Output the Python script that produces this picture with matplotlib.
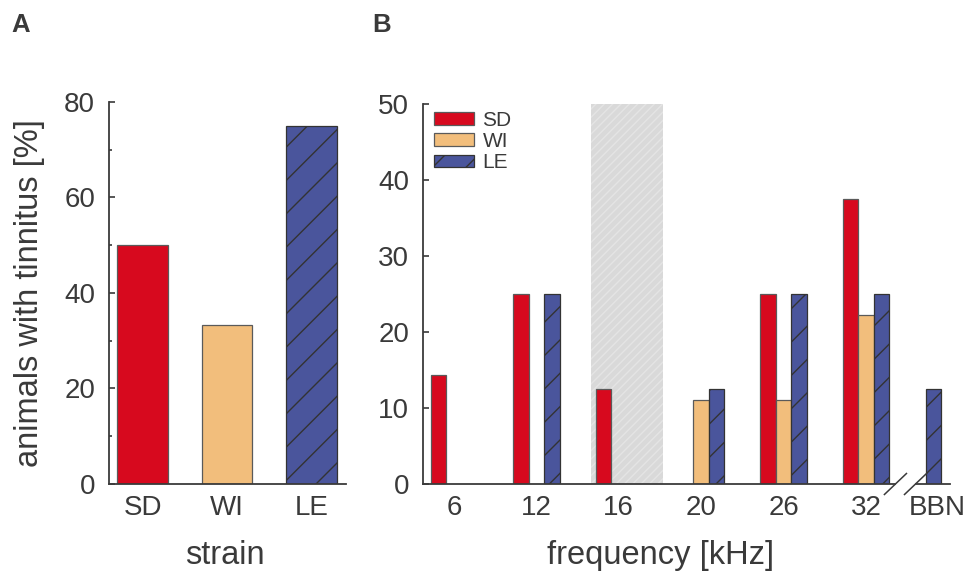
import matplotlib
matplotlib.use('Agg')
import matplotlib.pyplot as plt
from matplotlib.lines import Line2D
from matplotlib.patches import Patch

plt.rcParams['font.family'] = ['Liberation Sans', 'DejaVu Sans']
plt.rcParams['hatch.linewidth'] = 1.0

TXT = '#3a3a3a'
plt.rcParams['text.color'] = TXT
plt.rcParams['axes.labelcolor'] = TXT
plt.rcParams['xtick.color'] = TXT
plt.rcParams['ytick.color'] = TXT

# ---------------- data ----------------
# Panel A
strains = ['SD', 'WI', 'LE']
tinnitus_pct = [50.0, 33.3, 75.0]

# Panel B
freq_labels = ['6', '12', '16', '20', '26', '32', 'BBN']
sd_pct = [14.3, 25.0, 12.5, 0.0, 25.0, 37.5, 0.0]
wi_pct = [0.0, 0.0, 0.0, 11.1, 11.1, 22.2, 0.0]
le_pct = [0.0, 25.0, 0.0, 12.5, 25.0, 25.0, 12.5]

# ---------------- style / layout ----------------
C_SD = '#d7091e'
C_WI = '#f2be7c'
C_LE = '#4a559c'
EDGE = '#5a5a5a'
SPINE = '#3a3a3a'

group_pos = [0, 1, 2, 3, 4, 5, 5.63]
label_pos = [0, 1, 2, 3, 4, 5, 5.87]
shade_span = (1.66, 2.54)
bw = 0.188

TICK_FS = 20
LABEL_FS = 23.5

fig = plt.figure(figsize=(9.72, 5.74), dpi=100)
axA = fig.add_axes([0.1121, 0.1568, 0.2439, 0.6655])
axB = fig.add_axes([0.4352, 0.1568, 0.5422, 0.6620])

for ax in (axA, axB):
    for s in ('top', 'right'):
        ax.spines[s].set_visible(False)
    for s in ('left', 'bottom'):
        ax.spines[s].set_linewidth(1.3)
        ax.spines[s].set_color(SPINE)
    ax.tick_params(which='both', direction='in', color=SPINE, width=1.2)
    ax.tick_params(which='major', length=4.5, labelsize=TICK_FS)
    ax.tick_params(which='minor', length=2.5)

# ---------------- Panel A ----------------
colorsA = [C_SD, C_WI, C_LE]
hatchA = [None, None, '/']
edgeA = [EDGE, EDGE, '#333333']
for i, (s, v) in enumerate(zip(strains, tinnitus_pct)):
    axA.bar(i, v, width=0.6, color=colorsA[i], edgecolor=edgeA[i],
            linewidth=0.9, hatch=hatchA[i], zorder=2)
axA.set_xlim(-0.40, 2.41)
axA.set_ylim(0, 80)
axA.set_yticks([0, 20, 40, 60, 80])
axA.set_yticks([10, 30, 50, 70], minor=True)
axA.set_xticks(range(len(strains)), strains)
axA.tick_params(axis='x', which='major', length=0, pad=8)
axA.tick_params(axis='y', which='major', pad=10)
axA.set_xlabel('strain', fontsize=LABEL_FS)
axA.xaxis.set_label_coords(0.49, -0.147)
axA.set_ylabel('animals with tinnitus [%]', fontsize=LABEL_FS)
axA.yaxis.set_label_coords(-0.27, 0.5)

# ---------------- Panel B ----------------
axB.axvspan(shade_span[0], shade_span[1], facecolor='#d9d9d9',
            edgecolor='#e4e4e4', hatch='////', linewidth=0, zorder=0)

series = [(sd_pct, -bw, C_SD, None, EDGE),
          (wi_pct, 0.0, C_WI, None, EDGE),
          (le_pct, bw, C_LE, '/', '#333333')]
for vals, off, col, hat, ec in series:
    xs = [p + off for p, v in zip(group_pos, vals) if v > 0]
    hs = [v for v in vals if v > 0]
    axB.bar(xs, hs, width=bw, color=col, edgecolor=ec, linewidth=0.9,
            hatch=hat, zorder=2)

axB.set_xlim(-0.376, 6.02)
axB.set_ylim(0, 50)
axB.set_yticks([0, 10, 20, 30, 40, 50])
axB.set_xticks(label_pos, freq_labels)
axB.set_xticks(group_pos[:-1], minor=True)
axB.tick_params(axis='x', which='major', length=0, pad=8)
axB.tick_params(axis='x', which='minor', length=4.5)
axB.tick_params(axis='y', which='major', pad=10)
axB.set_xlabel('frequency [kHz]', fontsize=LABEL_FS)
axB.xaxis.set_label_coords(0.45, -0.147)

# broken bottom axis
axB.spines['bottom'].set_visible(False)
x1, x2 = 0.8964, 0.9345
dx, dy = 0.0209, 0.0276
for seg in ([0, x1], [x2, 1.0]):
    axB.add_line(Line2D(seg, [0, 0], transform=axB.transAxes, color=SPINE,
                        lw=1.3, clip_on=False, zorder=3))
for xc in (x1, x2):
    axB.add_line(Line2D([xc - dx, xc + dx], [-dy, dy], transform=axB.transAxes,
                        color=SPINE, lw=1.1, clip_on=False, zorder=3))

handles = [Patch(facecolor=C_SD, edgecolor=EDGE, linewidth=0.9),
           Patch(facecolor=C_WI, edgecolor=EDGE, linewidth=0.9),
           Patch(facecolor=C_LE, edgecolor='#333333', linewidth=0.9, hatch='/')]
axB.legend(handles, ['SD', 'WI', 'LE'], loc='upper left',
           bbox_to_anchor=(0.02, 0.982), frameon=False, fontsize=15,
           handlelength=1.95, handleheight=0.52, handletextpad=0.4,
           labelspacing=0.1, borderpad=0, borderaxespad=0)

fig.text(0.012, 0.978, 'A', fontsize=18.5, fontweight='bold', va='top')
fig.text(0.383, 0.978, 'B', fontsize=18.5, fontweight='bold', va='top')

fig.savefig('out.png', dpi=100)
